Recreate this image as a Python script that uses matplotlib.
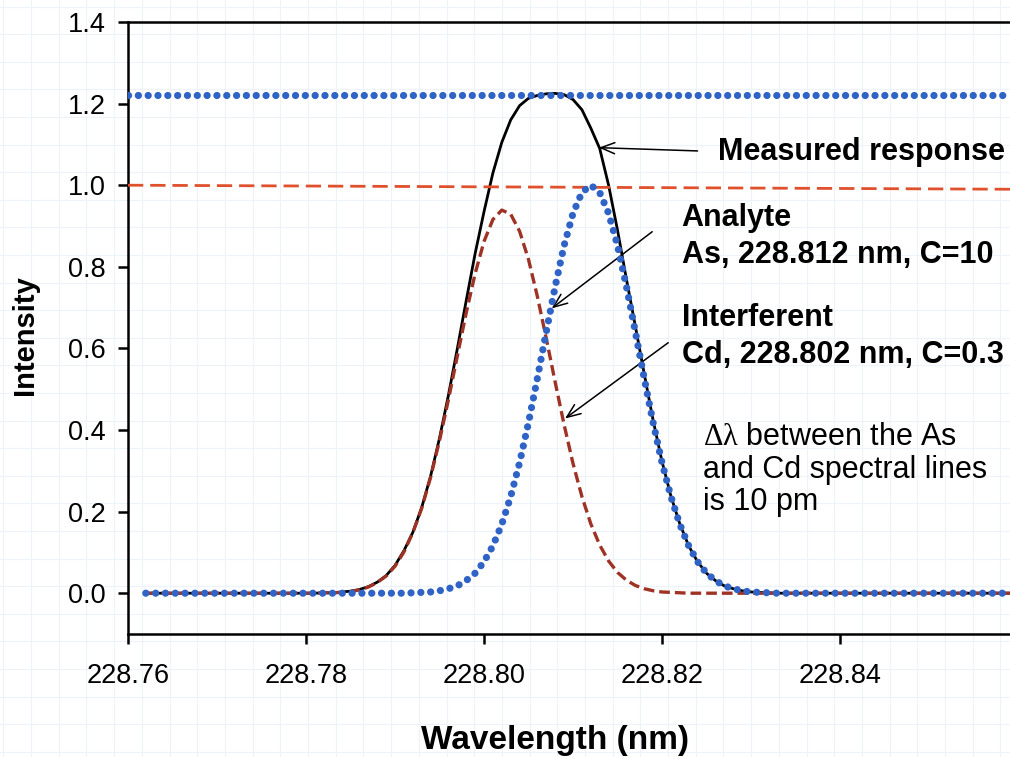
import numpy as np
import matplotlib
matplotlib.use("Agg")
import matplotlib.pyplot as plt

plt.rcParams['font.family'] = ['Liberation Sans', 'DejaVu Sans']
plt.rcParams['mathtext.fontset'] = 'custom'
plt.rcParams['mathtext.rm'] = 'Liberation Serif'
plt.rcParams['mathtext.it'] = 'Liberation Serif'

# wavelength grid (nm) and intensities
wavelength = [228.762, 228.780, 228.781, 228.782, 228.783, 228.784, 228.785, 228.786,
              228.787, 228.788, 228.789, 228.790, 228.791, 228.792, 228.793, 228.794,
              228.795, 228.796, 228.797, 228.798, 228.799, 228.800, 228.801, 228.802,
              228.803, 228.804, 228.805, 228.806, 228.807, 228.808, 228.809, 228.810,
              228.811, 228.812, 228.813, 228.814, 228.815, 228.816, 228.817, 228.818,
              228.819, 228.820, 228.821, 228.822, 228.823, 228.824, 228.825, 228.826,
              228.827, 228.828, 228.829, 228.830, 228.831, 228.832, 228.833, 228.834,
              228.860]

# interferent Cd 228.802 nm
cd_line = [0, 0, 0, 0.001, 0.001, 0.002, 0.004, 0.008,
           0.015, 0.026, 0.042, 0.066, 0.101, 0.148, 0.208, 0.284,
           0.374, 0.474, 0.581, 0.687, 0.783, 0.862, 0.916, 0.939,
           0.929, 0.887, 0.818, 0.727, 0.624, 0.517, 0.413, 0.318,
           0.237, 0.170, 0.118, 0.079, 0.051, 0.032, 0.019, 0.011,
           0.006, 0.003, 0.002, 0.001, 0, 0, 0, 0,
           0, 0, 0, 0, 0, 0, 0, 0,
           0]

# analyte As 228.812 nm
as_line = [0, 0, 0, 0, 0, 0, 0, 0,
           0, 0, 0, 0, 0, 0.001, 0.002, 0.003,
           0.006, 0.011, 0.018, 0.031, 0.049, 0.077, 0.116, 0.169,
           0.237, 0.320, 0.418, 0.527, 0.641, 0.752, 0.852, 0.931,
           0.982, 1.000, 0.982, 0.931, 0.852, 0.752, 0.641, 0.527,
           0.418, 0.320, 0.237, 0.169, 0.116, 0.077, 0.049, 0.031,
           0.018, 0.011, 0.006, 0.003, 0.002, 0.001, 0, 0,
           0]

# measured response
measured = [0, 0, 0, 0.001, 0.001, 0.003, 0.005, 0.009,
            0.016, 0.027, 0.043, 0.068, 0.104, 0.149, 0.210, 0.287,
            0.380, 0.485, 0.599, 0.717, 0.832, 0.935, 1.030, 1.105,
            1.160, 1.195, 1.213, 1.220, 1.224, 1.225, 1.222, 1.210,
            1.185, 1.140, 1.090, 1.000, 0.890, 0.770, 0.655, 0.538,
            0.424, 0.323, 0.238, 0.170, 0.116, 0.077, 0.049, 0.031,
            0.018, 0.011, 0.006, 0.003, 0.002, 0.001, 0, 0,
            0]

# horizontal reference levels
ref_x = [228.760, 228.860]
ref_measured = [1.22, 1.22]
ref_as = [1.0, 0.99]

blue = '#3063c6'
dots = dict(color=blue, lw=5.2, linestyle=(0, (0.01, 1.35)),
            dash_capstyle='round', zorder=5)

fig = plt.figure(figsize=(10.10, 7.57), dpi=100)

# faint graph-paper background
bg = fig.add_axes([0, 0, 1, 1], zorder=0)
bg.set_xlim(0, 1010)
bg.set_ylim(757, 0)
bg.axis('off')
for gx in np.arange(3.3, 1010, 27.7):
    bg.axvline(gx, color='#edf3fa', lw=0.8)
for gy in np.arange(6.5, 757, 27.6):
    bg.axhline(gy, color='#edf3fa', lw=0.8)

ax = fig.add_axes([128 / 1010, 123 / 757, 890 / 1010, 612 / 757], zorder=1)
ax.patch.set_alpha(0)

ax.plot(wavelength, measured, color='black', lw=2.0, zorder=3)
ax.plot(wavelength, cd_line, color='#9e3224', lw=2.4,
        linestyle=(0, (3.2, 1.5)), zorder=4)
ax.plot(wavelength, as_line, **dots)
ax.plot(ref_x, ref_measured, **dots)
ax.plot(ref_x, ref_as, color='#e0502c', lw=2.0,
        linestyle=(0, (5.5, 2.5)), zorder=4)

ax.set_xlim(228.76, 228.86)
ax.set_ylim(-0.1, 1.4)
ax.set_xticks([228.76, 228.78, 228.80, 228.82, 228.84])
ax.set_xticklabels(['228.76', '228.78', '228.80', '228.82', '228.84'])
ax.set_yticks([0.0, 0.2, 0.4, 0.6, 0.8, 1.0, 1.2, 1.4])
ax.set_yticklabels(['0.0', '0.2', '0.4', '0.6', '0.8', '1.0', '1.2', '1.4'])
ax.tick_params(axis='both', direction='out', length=7, width=1.8,
               labelsize=19.5, colors='black')
ax.tick_params(axis='x', pad=14)
ax.tick_params(axis='y', pad=9)
for s in ['left', 'bottom', 'top']:
    ax.spines[s].set_linewidth(1.8)
ax.spines['right'].set_visible(False)

fig.text(555 / 1010, 1 - 740 / 757, 'Wavelength (nm)', fontsize=24,
         fontweight='bold', ha='center', va='center')
fig.text(25 / 1010, 1 - 335 / 757, 'Intensity', fontsize=21,
         fontweight='bold', ha='center', va='center', rotation=90)

arrow = dict(arrowstyle='->,head_length=0.5,head_width=0.2', lw=1.1,
             color='black', mutation_scale=20, shrinkA=0, shrinkB=0)
ax.annotate('', xy=(228.8129, 1.092), xytext=(228.8240, 1.084), arrowprops=arrow)
ax.annotate('', xy=(228.8076, 0.698), xytext=(228.8189, 0.886), arrowprops=arrow)
ax.annotate('', xy=(228.8091, 0.428), xytext=(228.8207, 0.614), arrowprops=arrow)

bold = dict(fontsize=22, fontweight='bold', ha='left', va='center')
ax.text(228.8263, 1.082, 'Measured response', **bold)
ax.text(228.8222, 0.920, 'Analyte', **bold)
ax.text(228.8222, 0.830, 'As, 228.812 nm, C=10', **bold)
ax.text(228.8222, 0.675, 'Interferent', **bold)
ax.text(228.8222, 0.585, 'Cd, 228.802 nm, C=0.3', **bold)

plain = dict(fontsize=22, ha='left', va='center')
ax.text(228.8246, 0.384, r'$\mathrm{\Delta\lambda}$ between the As', **plain)
ax.text(228.8246, 0.303, 'and Cd spectral lines', **plain)
ax.text(228.8246, 0.223, 'is 10 pm', **plain)

fig.savefig('out.png', dpi=100)
